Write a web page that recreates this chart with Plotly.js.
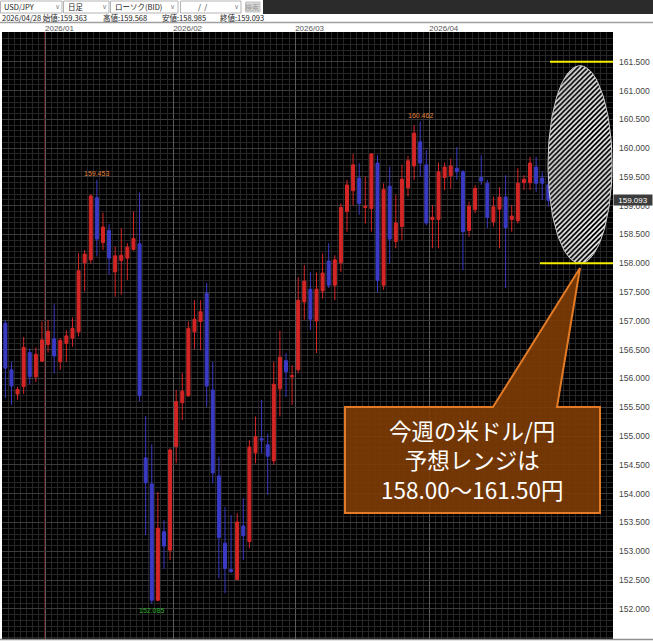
<!DOCTYPE html>
<html><head><meta charset="utf-8">
<script src="https://cdn.plot.ly/plotly-3.0.1.min.js"></script>
<style>html,body{margin:0;padding:0;background:#fff;overflow:hidden}#chart{width:653px;height:642px;}</style>
</head><body><div id="chart"></div>
<script>
// ---------------- data ----------------
const symbol = 'USD/JPY';
const period = '日足';
const chartType = 'ローソク(BID)';
const dates = ['2025/12/23','2025/12/24','2025/12/25','2025/12/26','2025/12/29','2025/12/30','2025/12/31',
'2026/01/02','2026/01/05','2026/01/06','2026/01/07','2026/01/08','2026/01/09','2026/01/12','2026/01/13','2026/01/14','2026/01/15','2026/01/16','2026/01/19','2026/01/20','2026/01/21','2026/01/22','2026/01/23','2026/01/26','2026/01/27','2026/01/28','2026/01/29','2026/01/30',
'2026/02/02','2026/02/03','2026/02/04','2026/02/05','2026/02/06','2026/02/09','2026/02/10','2026/02/11','2026/02/12','2026/02/13','2026/02/16','2026/02/17','2026/02/18','2026/02/19','2026/02/20','2026/02/23','2026/02/24','2026/02/25','2026/02/26','2026/02/27',
'2026/03/02','2026/03/03','2026/03/04','2026/03/05','2026/03/06','2026/03/09','2026/03/10','2026/03/11','2026/03/12','2026/03/13','2026/03/16','2026/03/17','2026/03/18','2026/03/19','2026/03/20','2026/03/23','2026/03/24','2026/03/25','2026/03/26','2026/03/27','2026/03/30','2026/03/31',
'2026/04/01','2026/04/02','2026/04/03','2026/04/06','2026/04/07','2026/04/08','2026/04/09','2026/04/10','2026/04/13','2026/04/14','2026/04/15','2026/04/16','2026/04/17','2026/04/20','2026/04/21','2026/04/22','2026/04/23','2026/04/24','2026/04/27','2026/04/28'];
const openP  = [156.96,156.15,155.73,155.86,156.45,156.03,156.30,
156.59,156.69,156.29,156.61,156.70,156.81,158.01,158.06,159.14,158.36,158.57,157.85,158.05,158.09,158.24,158.34,154.62,154.17,152.15,153.34,153.02,
154.82,155.58,155.70,156.81,156.99,157.48,155.80,154.31,153.14,152.68,152.51,153.44,153.17,154.71,154.96,154.85,154.57,155.82,156.31,156.03,
156.15,157.33,157.55,157.00,157.52,158.04,157.62,158.01,158.90,159.26,159.48,158.97,158.95,159.74,157.62,159.34,158.38,158.64,159.31,159.69,160.11,159.71,
158.76,158.76,159.49,159.52,159.65,159.59,158.57,158.93,159.49,159.39,158.72,158.94,159.15,158.76,158.74,159.40,159.40,159.67,159.48,159.363];
const highP  = [157.02,156.29,155.86,156.72,156.52,156.54,156.99,
157.02,157.29,156.70,156.84,157.06,158.18,158.23,159.19,159.453,158.88,158.68,158.29,158.61,158.35,158.90,159.23,155.35,154.86,154.03,153.54,154.79,
155.80,156.09,156.99,157.36,157.36,157.66,156.29,154.64,153.77,153.63,153.66,153.92,154.93,155.34,155.63,155.04,156.29,156.83,156.44,156.23,
157.76,157.97,157.85,157.84,158.17,158.35,158.14,159.04,159.45,159.90,159.74,159.50,159.91,159.88,159.39,159.68,159.19,159.71,159.86,160.40,160.462,159.97,
159.01,159.75,159.75,159.82,160.02,159.62,159.07,159.36,159.88,159.45,159.16,159.32,159.53,159.01,159.65,159.53,159.85,159.85,159.59,159.568];
const lowP   = [155.66,155.54,155.63,155.73,155.90,155.94,156.29,
156.45,156.09,156.15,156.29,156.55,156.73,157.51,158.00,158.12,158.23,157.80,157.42,157.45,157.71,158.22,155.60,153.28,152.085,152.13,152.70,152.85,
154.53,155.28,155.68,156.51,156.49,155.51,154.18,152.53,152.27,152.62,152.50,152.85,153.05,154.53,154.70,153.98,154.50,155.34,155.68,155.54,
156.09,157.02,156.84,156.44,157.39,157.57,157.36,157.85,158.55,159.01,158.84,158.69,158.55,157.49,157.54,158.00,158.26,158.40,159.16,159.45,159.50,158.66,
158.26,158.26,159.27,159.30,159.45,157.88,158.46,158.87,159.36,158.61,158.64,158.26,157.57,158.55,158.69,159.27,159.27,159.24,159.10,158.985];
const closeP = [156.18,155.87,155.81,156.54,156.03,156.42,156.67,
156.82,156.39,156.66,156.74,156.87,157.87,158.16,159.17,158.42,158.63,158.09,158.13,158.14,158.28,158.43,155.70,154.19,152.15,153.40,153.09,154.76,
155.60,155.78,156.87,157.03,157.16,155.87,154.36,153.24,152.70,152.65,153.51,153.27,154.81,154.99,154.93,154.65,155.90,156.37,156.12,156.05,
157.36,157.69,157.03,157.55,157.83,157.62,158.06,158.97,159.36,159.71,159.04,158.99,159.90,157.70,159.28,158.42,158.70,159.46,159.78,160.26,159.74,158.70,
158.80,159.59,159.67,159.69,159.59,158.55,158.99,159.30,159.43,158.80,158.98,159.15,158.62,158.82,159.39,159.46,159.74,159.39,159.39,159.093];
const yTickVals = [152.0,152.5,153.0,153.5,154.0,154.5,155.0,155.5,156.0,156.5,157.0,157.5,158.0,158.5,159.0,159.5,160.0,160.5,161.0,161.5];
const forecastLow = 158.00, forecastHigh = 161.50;
const calloutTitle = ['今週の米ドル/円', '予想レンジは'];
const headerLabels = {open:'始値', high:'高値', low:'安値', close:'終値', search:'検索'};

// ---------------- derived ----------------
const N = dates.length;
const xIdx = dates.map((d, i) => i);
const monthTickVals = [], monthTickText = [];
for (let i = 1; i < N; i++) {
  if (dates[i].slice(0, 7) !== dates[i - 1].slice(0, 7)) {
    monthTickVals.push(i - 0.5);
    monthTickText.push(dates[i].slice(0, 7));
  }
}
let iMax = 0, iMin = 0;
for (let i = 0; i < N; i++) { if (highP[i] > highP[iMax]) iMax = i; if (lowP[i] < lowP[iMin]) iMin = i; }
let iMax2 = 0;
for (let i = 0; i < iMin; i++) if (highP[i] > highP[iMax2]) iMax2 = i;
const last = N - 1;

// pixel -> paper helpers (plot area: x 2..613, y 32..640)
const PL = 2, PR = 613, PT = 32, PB = 640;
const px = v => (v - PL) / (PR - PL);
const py = v => (PB - v) / (PB - PT);

// ---------------- traces ----------------
const candle = {
  type: 'candlestick', x: xIdx, open: openP, high: highP, low: lowP, close: closeP,
  text: dates, hoverinfo: 'text+y',
  increasing: {line: {color: '#d42626', width: 1}, fillcolor: '#d42626'},
  decreasing: {line: {color: '#3a3ac4', width: 1}, fillcolor: '#3a3ac4'},
  whiskerwidth: 0, showlegend: false
};

// hatched ellipse (forecast range)
const ellCx = 94.2, ellRx = 5.25;
const ellTop = forecastHigh - 0.07, ellBot = forecastLow;
const ellCy = (ellTop + ellBot) / 2, ellRy = (ellTop - ellBot) / 2;
const ex = [], ey = [];
for (let k = 0; k <= 120; k++) { const t = 2 * Math.PI * k / 120; ex.push(ellCx + ellRx * Math.cos(t)); ey.push(ellCy + ellRy * Math.sin(t)); }
const ellipse = {
  type: 'scatter', x: ex, y: ey, mode: 'lines', fill: 'toself',
  fillpattern: {shape: '/', fgcolor: '#ffffff', bgcolor: '#000000', size: 3.5, solidity: 0.45, fillmode: 'replace'},
  line: {color: '#cfcfcf', width: 1}, hoverinfo: 'skip', showlegend: false
};

// ---------------- shapes ----------------
const P = (a, b) => px(a).toFixed(5) + ',' + py(b).toFixed(5);
const calloutPath = 'M' + P(345, 407) + 'L' + P(493, 407) + 'L' + P(580, 268) + 'L' + P(557, 407) + 'L' + P(600, 407) +
  'L' + P(600, 513) + 'L' + P(345, 513) + 'Z';

const shapes = [
  // Jan separator (red)
  {type: 'line', xref: 'x', yref: 'paper', x0: monthTickVals[0], x1: monthTickVals[0], y0: 0, y1: 1, layer: 'between', line: {color: '#761818', width: 1.5}},
  // forecast lines
  {type: 'line', xref: 'paper', yref: 'y', x0: px(550), x1: 1, y0: forecastHigh, y1: forecastHigh, line: {color: '#f4ee00', width: 2}},
  {type: 'line', xref: 'paper', yref: 'y', x0: px(540), x1: 1, y0: forecastLow, y1: forecastLow, line: {color: '#f4ee00', width: 2}},
  // callout
  {type: 'path', xref: 'paper', yref: 'paper', path: calloutPath, fillcolor: 'rgba(125,60,4,0.9)', line: {color: '#e27a26', width: 2}},
  // header: dark bar
  {type: 'rect', xref: 'paper', yref: 'paper', x0: px(263), x1: px(653), y0: py(14), y1: py(0), fillcolor: '#2b2b2b', line: {width: 0}},
  // header boxes
  {type: 'rect', xref: 'paper', yref: 'paper', x0: px(0.5), x1: px(62), y0: py(13), y1: py(1), fillcolor: '#ffffff', line: {color: '#b4b4b4', width: 1}},
  {type: 'rect', xref: 'paper', yref: 'paper', x0: px(63.5), x1: px(109), y0: py(13), y1: py(1), fillcolor: '#ffffff', line: {color: '#b4b4b4', width: 1}},
  {type: 'rect', xref: 'paper', yref: 'paper', x0: px(110.5), x1: px(178), y0: py(13), y1: py(1), fillcolor: '#ffffff', line: {color: '#b4b4b4', width: 1}},
  {type: 'rect', xref: 'paper', yref: 'paper', x0: px(180.5), x1: px(241), y0: py(13), y1: py(1), fillcolor: '#ffffff', line: {color: '#b4b4b4', width: 1}},
  {type: 'rect', xref: 'paper', yref: 'paper', x0: px(245.5), x1: px(260), y0: py(12), y1: py(2), fillcolor: '#d6d6d6', line: {color: '#c4c4c4', width: 1}},
  // separator under info row
  {type: 'line', xref: 'paper', yref: 'paper', x0: px(0), x1: px(653), y0: py(22.5), y1: py(22.5), line: {color: '#a0a0a0', width: 1.5}},
  // bottom line
  {type: 'line', xref: 'paper', yref: 'paper', x0: px(0), x1: px(653), y0: py(639.5), y1: py(639.5), line: {color: '#909090', width: 1.5}}
];

// ---------------- annotations ----------------
const hdrFont = {family: '"Noto Sans CJK JP", sans-serif', size: 7.5, color: '#222'};
const T = (x, y, text, font, anchor) => ({xref: 'paper', yref: 'paper', x: px(x), y: py(y), text: text, showarrow: false, xanchor: anchor || 'left', yanchor: 'middle', font: font || hdrFont});
const chevFont = {family: 'DejaVu Sans', size: 7, color: '#8a8a8a'};
const lastDate = dates[last];
const calloutText = calloutTitle.concat([forecastLow.toFixed(2) + '～' + forecastHigh.toFixed(2) + '円']).join('<br>');
const annotations = [
  T(2, 7, symbol), T(57, 7, '∨', chevFont, 'center'),
  T(66, 7, period), T(104, 7, '∨', chevFont, 'center'),
  T(113, 7, chartType), T(172, 7, '∨', chevFont, 'center'),
  T(196, 7, '/  /'), T(236, 7, '∨', chevFont, 'center'),
  T(252.5, 7, headerLabels.search, {family: '"Noto Sans CJK JP", sans-serif', size: 7, color: '#9a9a9a'}, 'center'),
  T(0, 17.2, lastDate + ' ' + headerLabels.open + ':' + openP[last].toFixed(3)),
  T(101, 17.2, headerLabels.high + ':' + highP[last].toFixed(3)),
  T(160, 17.2, headerLabels.low + ':' + lowP[last].toFixed(3)),
  T(218, 17.2, headerLabels.close + ':' + closeP[last].toFixed(3)),
  // high/low markers
  {x: iMax2, y: highP[iMax2], xref: 'x', yref: 'y', text: highP[iMax2].toFixed(3), showarrow: false, yanchor: 'bottom', yshift: 1, font: {family: 'Liberation Sans', size: 7, color: '#e0843c'}},
  {x: iMax, y: highP[iMax], xref: 'x', yref: 'y', text: highP[iMax].toFixed(3), showarrow: false, yanchor: 'bottom', yshift: 1, font: {family: 'Liberation Sans', size: 7, color: '#e0843c'}},
  {x: iMin, y: lowP[iMin], xref: 'x', yref: 'y', text: lowP[iMin].toFixed(3), showarrow: false, yanchor: 'top', yshift: -1, font: {family: 'Liberation Sans', size: 7, color: '#2cb02c'}},
  // current price tag
  {x: 1, y: closeP[last], xref: 'paper', yref: 'y', text: closeP[last].toFixed(3), showarrow: false, xanchor: 'left', yanchor: 'middle', xshift: 0,
   bgcolor: '#3c3c3c', width: 36, height: 8, borderpad: 1, font: {family: 'Liberation Sans', size: 8, color: '#ffffff'}},
  // callout text (single block)
  Object.assign(T(472, 459, calloutText, {family: '"Noto Sans CJK JP", sans-serif', size: 22.5, color: '#ffffff'}, 'center'), {align: 'center'})
];

const layout = {
  width: 653, height: 642,
  margin: {l: PL, r: 653 - PR, t: PT, b: 642 - PB, pad: 0},
  paper_bgcolor: '#ffffff', plot_bgcolor: '#000000',
  showlegend: false,
  xaxis: {
    type: 'linear', side: 'top', range: [-0.55, 99.6], fixedrange: true,
    rangeslider: {visible: false},
    tickmode: 'array', tickvals: monthTickVals, ticktext: monthTickText,
    ticklabelposition: 'outside right', ticks: '', ticklabelstandoff: -2,
    tickfont: {family: 'Liberation Sans', size: 8, color: '#555'},
    showgrid: true, gridcolor: '#5a5a5a', gridwidth: 1, zeroline: false, showline: false,
    minor: {tickmode: 'linear', tick0: -0.5, dtick: 1, showgrid: true, gridcolor: '#262626', gridwidth: 1}
  },
  yaxis: {
    side: 'right', range: [151.46, 162.016], fixedrange: true,
    tickmode: 'array', tickvals: yTickVals, ticktext: yTickVals.map(v => v.toFixed(3)),
    ticks: '', ticklabelstandoff: 5,
    tickfont: {family: 'Liberation Sans', size: 8.5, color: '#444'},
    showgrid: true, gridcolor: '#3c3c3c', gridwidth: 1, zeroline: false, showline: false,
    minor: {tickmode: 'linear', tick0: 152, dtick: 0.1, showgrid: true, gridcolor: '#262626', gridwidth: 1}
  },
  shapes: shapes,
  annotations: annotations
};

Plotly.newPlot('chart', [candle, ellipse], layout, {displayModeBar: false, staticPlot: true});
</script>
</body></html>
